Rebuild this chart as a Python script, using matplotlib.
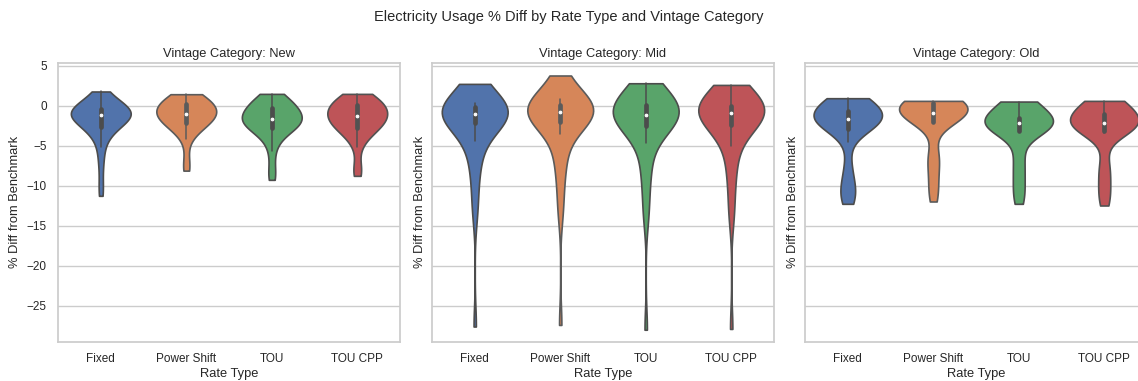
import matplotlib
matplotlib.use("Agg")
import matplotlib.pyplot as plt, seaborn as sns, numpy as np

rate_types = ["Fixed", "Power Shift", "TOU", "TOU CPP"]
vintages = ["New", "Mid", "Old"]

# % diff from benchmark (sorted samples per group)
new_fixed = [-11.25, -9.6, -7.6, -6.2, -5.1, -4.3, -3.7, -3.3, -3.0, -2.8, -2.58,
             -2.4, -2.25, -2.1, -1.95, -1.8, -1.65, -1.5, -1.4, -1.28, -1.17,
             -1.08, -1.0, -0.92, -0.85, -0.78, -0.7, -0.62, -0.55, -0.48, -0.42,
             -0.3, -0.15, 0.0, 0.2, 0.4, 0.6, 0.85, 1.1, 1.4, 1.8]
new_power = [-8.1, -7.7, -6.2, -4.17, -3.6, -3.2, -2.9, -2.65, -2.45, -2.3, -2.2,
             -2.05, -1.9, -1.75, -1.6, -1.48, -1.36, -1.25, -1.15, -1.07, -1.0,
             -0.9, -0.8, -0.7, -0.6, -0.48, -0.36, -0.22, -0.08, 0.06, 0.2,
             0.3, 0.42, 0.55, 0.68, 0.8, 0.92, 1.05, 1.18, 1.32, 1.46]
new_tou = [-9.25, -8.6, -7.3, -5.7, -4.8, -4.1, -3.6, -3.3, -3.05, -2.9, -2.8,
           -2.65, -2.5, -2.38, -2.26, -2.14, -2.02, -1.9, -1.8, -1.72, -1.63,
           -1.52, -1.42, -1.32, -1.2, -1.08, -0.95, -0.8, -0.62, -0.45, -0.29,
           -0.1, 0.05, 0.2, 0.35, 0.5, 0.66, 0.82, 1.0, 1.25, 1.5]
new_toucpp = [-8.75, -8.2, -7.3, -5.2, -4.5, -3.9, -3.5, -3.2, -3.0, -2.9, -2.8,
              -2.62, -2.45, -2.3, -2.12, -1.95, -1.8, -1.64, -1.5, -1.4, -1.3,
              -1.2, -1.1, -1.0, -0.88, -0.76, -0.62, -0.46, -0.3, -0.12, 0.06,
              0.18, 0.3, 0.42, 0.55, 0.68, 0.82, 0.96, 1.12, 1.3, 1.5]

mid_fixed = [-27.6, -13.5, -12.0, -9.5, -8.0, -6.8, -5.8, -5.1, -4.4, -3.3, -2.08,
             -1.96, -1.84, -1.72, -1.6, -1.5, -1.4, -1.3, -1.2, -1.12, -1.04,
             -0.96, -0.88, -0.8, -0.72, -0.62, -0.52, -0.42, -0.32, -0.24, -0.17,
             -0.1, 0.0, 0.1, 0.2, 0.3, 0.42, 2.71, 2.72, 2.74, 2.75]
mid_power = [-27.4, -13.5, -12.0, -9.5, -8.0, -6.8, -6.0, -5.4, -3.5, -2.8, -2.04,
             -1.9, -1.76, -1.62, -1.48, -1.35, -1.22, -1.08, -0.95, -0.84, -0.75,
             -0.66, -0.57, -0.48, -0.39, -0.3, -0.2, -0.1, 0.0, 0.06, 0.12,
             0.2, 0.3, 0.4, 0.5, 0.6, 0.72, 0.875, 3.45, 3.65, 3.8]
mid_tou = [-28.0, -14.0, -12.5, -10.0, -8.4, -7.2, -6.6, -4.67, -3.8, -3.0, -2.5,
           -2.35, -2.2, -2.06, -1.92, -1.78, -1.64, -1.5, -1.38, -1.28, -1.2,
           -1.08, -0.96, -0.84, -0.72, -0.6, -0.46, -0.32, -0.18, -0.02, 0.12,
           0.35, 0.6, 0.85, 1.1, 1.35, 1.6, 1.9, 2.2, 2.5, 2.83]
mid_toucpp = [-27.9, -14.0, -12.5, -10.0, -8.4, -7.2, -6.2, -5.08, -4.0, -3.1, -2.37,
              -2.2, -2.04, -1.88, -1.72, -1.56, -1.42, -1.28, -1.14, -1.02, -0.92,
              -0.82, -0.72, -0.62, -0.52, -0.42, -0.32, -0.22, -0.12, -0.05, 0.0,
              0.2, 0.42, 0.64, 0.86, 1.1, 1.34, 1.6, 1.9, 2.25, 2.62]

old_fixed = [-12.25, -11.8, -11.2, -10.6, -10.0, -9.3, -8.2, -6.9, -4.46, -3.5, -2.9,
             -2.75, -2.6, -2.45, -2.3, -2.18, -2.06, -1.94, -1.84, -1.76, -1.7,
             -1.58, -1.46, -1.34, -1.22, -1.1, -0.98, -0.86, -0.74, -0.66, -0.58,
             -0.3, 0.0, 0.25, 0.45, 0.6, 0.72, 0.82, 0.88, 0.93, 0.96]
old_power = [-11.96, -11.2, -10.3, -9.3, -8.3, -7.4, -6.6, -6.0, -5.7, -2.2, -2.04,
             -1.92, -1.8, -1.68, -1.56, -1.44, -1.32, -1.2, -1.08, -1.0, -0.92,
             -0.8, -0.66, -0.52, -0.38, -0.24, -0.1, 0.04, 0.16, 0.26, 0.33,
             0.36, 0.4, 0.44, 0.48, 0.52, 0.55, 0.58, 0.6, 0.615, 0.625]
old_tou = [-12.25, -11.6, -10.8, -9.9, -9.0, -8.1, -7.2, -6.4, -5.6, -3.2, -3.1,
           -3.0, -2.92, -2.84, -2.76, -2.68, -2.6, -2.5, -2.4, -2.3, -2.2,
           -2.12, -2.05, -1.98, -1.91, -1.84, -1.77, -1.7, -1.64, -1.58, -1.54,
           -1.0, -0.6, -0.3, -0.05, 0.15, 0.3, 0.4, 0.47, 0.52, 0.54]
old_toucpp = [-12.46, -11.8, -11.0, -10.1, -9.2, -8.3, -7.5, -6.7, -3.4, -3.3, -3.2,
              -3.08, -2.96, -2.84, -2.72, -2.6, -2.5, -2.4, -2.32, -2.26, -2.2,
              -2.08, -1.96, -1.84, -1.72, -1.6, -1.48, -1.36, -1.24, -1.14, -1.04,
              -0.6, -0.3, -0.05, 0.15, 0.3, 0.42, 0.5, 0.56, 0.6, 0.625]

usage = {
    "New": [new_fixed, new_power, new_tou, new_toucpp],
    "Mid": [mid_fixed, mid_power, mid_tou, mid_toucpp],
    "Old": [old_fixed, old_power, old_tou, old_toucpp],
}

PALETTE = sns.color_palette("deep")[:4]
BW = {"New": 1.2, "Mid": 2.4, "Old": 1.5}       # kde bandwidth in % units
WIDTH = {"New": 0.70, "Mid": 0.77, "Old": 0.80}

sns.set_theme(style="whitegrid")
plt.rcParams["font.family"] = ["Liberation Sans", "DejaVu Sans"]

fig = plt.figure(figsize=(11.38, 3.81), dpi=100)
lefts = [0.051, 0.3796, 0.7074]
axes = []
for left in lefts:
    ax = fig.add_axes([left, 0.1031, 0.3005, 0.7323], sharey=axes[0] if axes else None)
    axes.append(ax)

for ax, vint in zip(axes, vintages):
    for i, rate in enumerate(rate_types):
        vals = np.array(usage[vint][i])
        sns.violinplot(x=[rate] * len(vals), y=vals, order=rate_types, color=PALETTE[i],
                       saturation=0.9, cut=0, inner="box",
                       bw_method=BW[vint] / vals.std(ddof=1),
                       density_norm="width", width=WIDTH[vint], linewidth=1.2,
                       inner_kws=dict(box_width=3.4, whis_width=1.1, marker="o",
                                      markersize=2.0), ax=ax)
    ax.set_title(f"Vintage Category: {vint}", fontsize=9.3, pad=4)
    ax.set_xlabel("Rate Type", fontsize=9.3, labelpad=2)
    ax.set_ylabel("% Diff from Benchmark", fontsize=9.3)
    ax.tick_params(axis="both", labelsize=8.5, pad=2)
    ax.set_xlim(-0.5, 3.5)

axes[0].set_ylim(-29.5, 5.4)
axes[0].set_yticks([-25, -20, -15, -10, -5, 0, 5])
for ax in axes[1:]:
    ax.tick_params(axis="y", labelleft=False)

fig.suptitle("Electricity Usage % Diff by Rate Type and Vintage Category", fontsize=10.5, y=0.975)
fig.savefig("out.png", dpi=100)
